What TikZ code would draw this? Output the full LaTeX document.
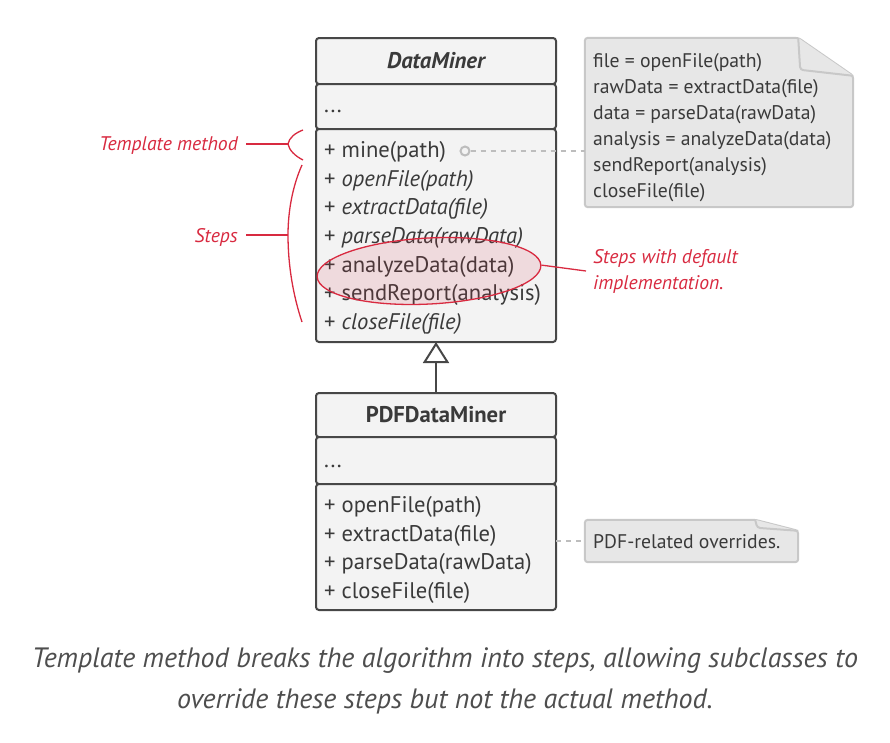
\documentclass[tikz,border=0pt]{standalone}
\usepackage{fontspec}
\setmainfont{PT Sans}
\usetikzlibrary{positioning}
\usetikzlibrary{shapes.geometric, arrows.meta, calc}
\definecolor{ink}{HTML}{3A3A3A}
\definecolor{boxline}{HTML}{474747}
\definecolor{boxfill}{HTML}{F3F3F3}
\definecolor{notefill}{HTML}{E7E7E7}
\definecolor{noteedge}{HTML}{C8C8C8}
\definecolor{linkgray}{HTML}{BDBDBD}
\definecolor{hint}{HTML}{D82A40}
\tikzstyle{classpart} = [rectangle, rounded corners=3pt, draw=boxline, line width=2pt, fill=boxfill, minimum width=240pt, inner sep=0pt, outer sep=0pt, text=ink]
\tikzstyle{member} = [anchor=north west, inner sep=0pt, text height=20pt, text depth=8.2pt, font=\fontsize{22.6}{26}\selectfont, text=ink]
\tikzstyle{noteshape} = [draw=noteedge, fill=notefill, line width=2pt, rounded corners=3pt]
\tikzstyle{notetext} = [anchor=north west, inner sep=0pt, align=left, font=\fontsize{19.7}{26}\selectfont, text=ink]
\tikzstyle{hintlabel} = [inner xsep=8pt, inner ysep=0pt, font=\fontsize{19.7}{26}\selectfont\itshape, text=hint]
\tikzstyle{hintline} = [draw=hint, line width=1.3pt]
\tikzstyle{dashlink} = [draw=linkgray, line width=2pt, dash pattern=on 5pt off 5pt]
\tikzstyle{inherit} = [draw=boxline, line width=2pt, -{Triangle[open, length=21pt, width=26pt]}]

\begin{document}
\begin{tikzpicture}[x=1pt, y=-1pt]
    \useasboundingbox (0,0) rectangle (890,742);
    % base class
    \node (dmHead) [classpart, minimum height=46pt, font=\fontsize{22.7}{26}\selectfont\bfseries\itshape] at (436,61) {DataMiner};
    \node (dmAttr) [classpart, minimum height=45pt, below=0pt of dmHead] {};
    \node (dmOps) [classpart, minimum height=213pt, below=0pt of dmAttr] {};
    \node (dmDots) [member, anchor=base west, text height=, text depth=] at (324,112) {...};
    \node (dmMine) [member] at (324,137.5) {+ mine(path)};
    \node (dmOpen) [member] at (dmMine.south west) {+ \textit{openFile(path)}};
    \node (dmExtract) [member] at (dmOpen.south west) {+ \textit{extractData(file)}};
    \node (dmParse) [member] at (dmExtract.south west) {+ \textit{parseData(rawData)}};
    \node (dmAnalyze) [member] at (dmParse.south west) {+ analyzeData(data)};
    \node (dmSend) [member] at (dmAnalyze.south west) {+ sendReport(analysis)};
    \node (dmClose) [member] at (dmSend.south west) {+ \textit{closeFile(file)}};

    % sub class
    \node (pdfHead) [classpart, minimum height=44pt, font=\fontsize{22.7}{26}\selectfont\bfseries] at (436,415) {PDFDataMiner};
    \node (pdfAttr) [classpart, minimum height=47pt, below=0pt of pdfHead] {};
    \node (pdfOps) [classpart, minimum height=126pt, below=0pt of pdfAttr] {};
    \node (pdfDots) [member, anchor=base west, text height=, text depth=] at (324,467) {...};
    \node (pdfOpen) [member] at (324,492.5) {+ openFile(path)};
    \node (pdfExtract) [member] at (pdfOpen.south west) {+ extractData(file)};
    \node (pdfParse) [member] at (pdfExtract.south west) {+ parseData(rawData)};
    \node (pdfClose) [member] at (pdfParse.south west) {+ closeFile(file)};

    \draw [inherit] (pdfHead.north) -- (dmOps.south);

    % notes
    \node (algoNote) [minimum width=268pt, minimum height=169pt, inner sep=0pt] at (719,122.5) {};
    \draw [noteshape] (algoNote.north west) -- ($(algoNote.north east)+(-55,0)$) -- ($(algoNote.north east)+(0,38)$) -- (algoNote.south east) -- (algoNote.south west) -- cycle;
    \draw [noteshape] ($(algoNote.north east)+(-55,0)$) -- ($(algoNote.north east)+(-53,32)$) -- ($(algoNote.north east)+(0,38)$);
    \node (algoText) [notetext] at (593,53.5) {file = openFile(path)\\rawData = extractData(file)\\data = parseData(rawData)\\analysis = analyzeData(data)\\sendReport(analysis)\\closeFile(file)};

    \node (pdfNote) [minimum width=213pt, minimum height=42pt, inner sep=0pt] at (691.5,541) {};
    \draw [noteshape] (pdfNote.north west) -- ($(pdfNote.north east)+(-43,0)$) -- ($(pdfNote.north east)+(0,11)$) -- (pdfNote.south east) -- (pdfNote.south west) -- cycle;
    \draw [noteshape] ($(pdfNote.north east)+(-43,0)$) -- ($(pdfNote.north east)+(-41,8)$) -- ($(pdfNote.north east)+(0,11)$);
    \node (pdfText) [notetext, anchor=base west] at (593,548) {PDF-related overrides.};

    \node (mineDot) [circle, draw=linkgray, line width=2pt, minimum size=9pt, inner sep=0pt] at (465,151) {};
    \draw [dashlink] (mineDot.east) -- (mineDot.east -| algoNote.west);
    \draw [dashlink] (pdfOps.east |- pdfNote.west) -- (pdfNote.west);

    % hints
    \node (tmLabel) [hintlabel, anchor=base east] at (246,150.5) {Template method};
    \coordinate (tmTip) at (288,144);
    \draw [hintline] (tmLabel.east |- tmTip) -- (tmTip);
    \draw [hintline] (303,130) .. controls (295,133) and (289,138) .. (tmTip) .. controls (289,150) and (295,156) .. (303,160);

    \node (stLabel) [hintlabel, anchor=base east] at (246,242) {Steps};
    \coordinate (stTip) at (288,235);
    \draw [hintline] (stLabel.east |- stTip) -- (stTip);
    \draw [hintline] (302,165) .. controls (293,185) and (288,210) .. (stTip) .. controls (288,265) and (293,295) .. (302,322);

    \node (defaults) [ellipse, draw=hint, line width=1.3pt, fill=hint, fill opacity=0.12, minimum width=224pt, minimum height=66pt, inner sep=0pt, rotate=3] at (429,271) {};
    \node (dfLabel) [hintlabel, anchor=west, align=left, inner xsep=7pt] at (586,271) {Steps with default\\implementation.};
    \draw [hintline] (defaults.east) -- (dfLabel.west);

    % caption
    \node (caption) [align=center, text=ink!90, font=\fontsize{28}{41}\selectfont\itshape] at (445,680.5) {Template method breaks the algorithm into steps, allowing subclasses to\\override these steps but not the actual method.};
\end{tikzpicture}
\end{document}
